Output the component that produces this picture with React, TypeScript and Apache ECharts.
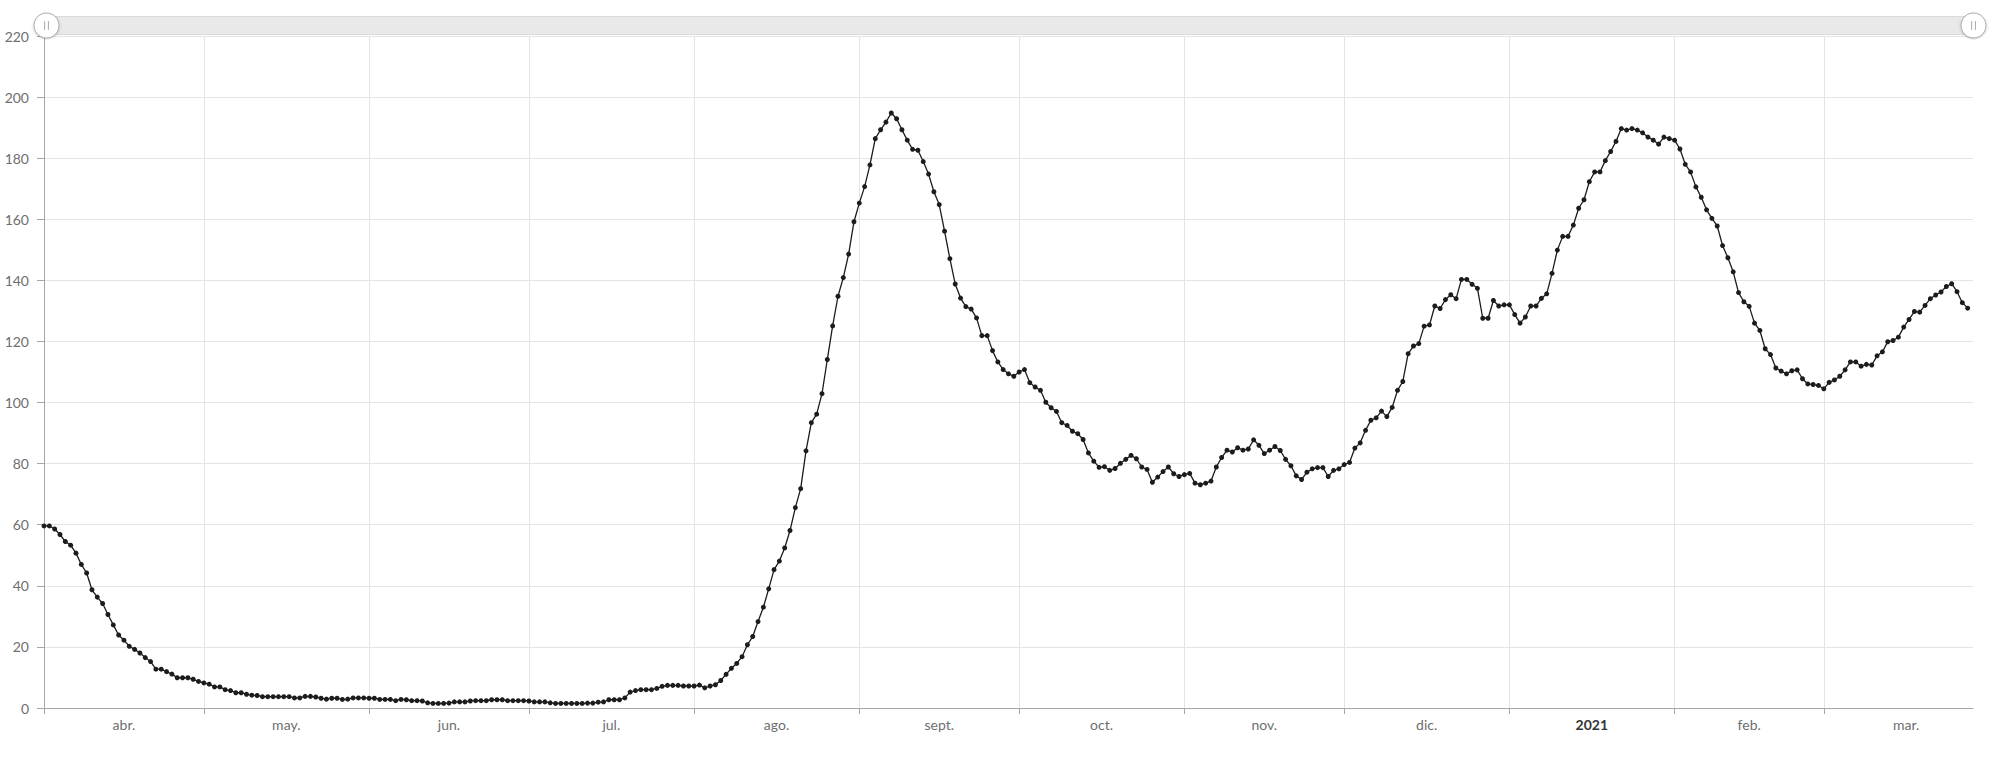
import React, { useEffect, useRef } from "react";
import * as echarts from "echarts";

// First day of the series: 1 April 2020 (month index 3, zero-based); the axis runs to 29 March 2021
const START_YEAR = 2020;
const START_MONTH = 3;
const AXIS_END = "2021-03-29";

const monthLabels = ["abr.", "may.", "jun.", "jul.", "ago.", "sept.", "oct.", "nov.", "dic.", "2021", "feb.", "mar."];

const yMin = 0;
const yMax = 220;
const yInterval = 20;

// Daily values, one array per month
const apr2020 = [59.6, 59.6, 58.6, 56.8, 54.5, 53.3, 50.7, 47.0, 44.2, 38.7, 36.3, 34.2, 30.6, 27.2, 23.9, 22.2, 20.2, 19.2, 18.0, 16.5, 15.2, 12.7, 12.7, 11.9, 11.1, 9.9, 9.9, 9.9, 9.4, 8.7];
const may2020 = [8.2, 7.8, 6.9, 6.9, 6.0, 5.7, 5.0, 5.0, 4.5, 4.2, 4.1, 3.7, 3.7, 3.7, 3.7, 3.7, 3.7, 3.3, 3.3, 3.8, 3.8, 3.6, 3.2, 2.9, 3.2, 3.2, 2.8, 2.9, 3.3, 3.3, 3.3];
const jun2020 = [3.2, 3.2, 2.8, 2.8, 2.8, 2.4, 2.8, 2.7, 2.4, 2.4, 2.3, 1.7, 1.5, 1.5, 1.5, 1.6, 2.0, 2.0, 2.0, 2.3, 2.4, 2.4, 2.4, 2.7, 2.7, 2.7, 2.4, 2.4, 2.4, 2.4];
const jul2020 = [2.3, 2.0, 2.0, 2.0, 1.7, 1.5, 1.5, 1.5, 1.5, 1.5, 1.5, 1.6, 1.6, 1.9, 2.0, 2.7, 2.7, 2.7, 3.3, 5.2, 5.7, 6.0, 6.0, 6.0, 6.4, 7.1, 7.4, 7.4, 7.4, 7.2, 7.2];
const aug2020 = [7.2, 7.5, 6.6, 7.2, 7.6, 9.0, 11.0, 13.0, 14.6, 16.8, 20.7, 23.4, 28.3, 33.0, 39.0, 45.3, 48.1, 52.4, 58.1, 65.6, 71.8, 84.2, 93.4, 96.2, 102.9, 114.1, 125.1, 134.8, 140.9, 148.6, 159.2];
const sep2020 = [165.3, 170.7, 177.8, 186.4, 189.3, 191.8, 194.8, 192.9, 189.3, 185.9, 182.9, 182.6, 178.9, 174.8, 169.0, 164.8, 156.1, 147.1, 138.8, 134.2, 131.4, 130.6, 127.7, 121.9, 121.9, 117.0, 113.3, 110.8, 109.4, 108.6];
const oct2020 = [110.0, 110.8, 106.5, 105.1, 104.0, 100.1, 98.3, 97.1, 93.4, 92.5, 90.6, 89.8, 87.9, 83.5, 80.8, 78.8, 79.0, 77.8, 78.4, 80.1, 81.4, 82.7, 81.6, 78.9, 78.1, 73.9, 75.6, 77.4, 78.9, 76.7, 75.8];
const nov2020 = [76.4, 76.8, 73.6, 73.1, 73.6, 74.3, 78.9, 82.0, 84.4, 83.8, 85.2, 84.4, 84.8, 87.8, 86.0, 83.3, 84.4, 85.6, 84.3, 81.4, 79.3, 76.0, 74.8, 77.2, 78.3, 78.7, 78.7, 75.8, 77.8, 78.3];
const dec2020 = [79.7, 80.4, 85.1, 86.8, 90.9, 94.2, 95.0, 97.2, 95.4, 98.4, 104.0, 106.9, 116.0, 118.5, 119.3, 125.0, 125.4, 131.6, 130.8, 133.7, 135.3, 134.0, 140.3, 140.3, 138.7, 137.4, 127.6, 127.6, 133.4, 131.6, 132.0];
const jan2021 = [132.0, 128.8, 126.0, 128.0, 131.6, 131.6, 134.1, 135.6, 142.3, 149.9, 154.4, 154.4, 158.1, 163.6, 166.4, 172.3, 175.5, 175.5, 179.2, 182.2, 185.5, 189.7, 189.2, 189.7, 189.2, 188.3, 186.9, 185.9, 184.6, 186.9, 186.4];
const feb2021 = [185.9, 183.0, 178.0, 175.5, 170.6, 167.2, 163.1, 160.3, 157.8, 151.4, 147.4, 142.8, 136.0, 133.0, 131.5, 126.0, 123.6, 117.6, 115.7, 111.3, 110.3, 109.4, 110.4, 110.7, 107.8, 106.1, 105.9, 105.6];
const mar2021 = [104.5, 106.6, 107.4, 108.6, 110.7, 113.3, 113.3, 111.9, 112.5, 112.3, 115.3, 116.6, 119.9, 120.3, 121.4, 124.7, 127.2, 129.8, 129.6, 131.8, 134.0, 135.2, 136.2, 138.0, 138.9, 136.3, 132.7, 130.9];

const monthlyValues = [apr2020, may2020, jun2020, jul2020, aug2020, sep2020, oct2020, nov2020, dec2020, jan2021, feb2021, mar2021];

const FONT = "Lato, 'Open Sans', sans-serif";
const pad = (n: number) => (n < 10 ? "0" + n : "" + n);

export default function App() {
  const ref = useRef<HTMLDivElement>(null);

  useEffect(() => {
    if (!ref.current) return;
    const chart = echarts.init(ref.current, null, { renderer: "svg" });

    const values: number[] = [];
    monthlyValues.forEach((arr) => arr.forEach((v) => values.push(v)));

    // Daily categories from the first day to the axis end
    const categories: string[] = [];
    const monthStarts = new Set<number>();
    const start = Date.UTC(START_YEAR, START_MONTH, 1);
    const [ey, em, ed] = AXIS_END.split("-").map(Number);
    const end = Date.UTC(ey, em - 1, ed);
    for (let t = start; t <= end; t += 86400000) {
      const d = new Date(t);
      if (d.getUTCDate() === 1) monthStarts.add(categories.length);
      categories.push(`${d.getUTCFullYear()}-${pad(d.getUTCMonth() + 1)}-${pad(d.getUTCDate())}`);
    }

    // One label per month, centred in the month
    const labelAt = new Map<number, { text: string; half: boolean; bold: boolean }>();
    let s = 0;
    monthLabels.forEach((text, m) => {
      const y = START_YEAR + Math.floor((START_MONTH + m) / 12);
      const mo = (START_MONTH + m) % 12;
      const daysInMonth = new Date(Date.UTC(y, mo + 1, 0)).getUTCDate();
      const twice = 2 * s + daysInMonth;
      labelAt.set(Math.floor(twice / 2), { text, half: twice % 2 === 1, bold: mo === 0 });
      s += daysInMonth;
    });

    const labelColor = "#6e6e6e";
    const base = { color: labelColor, fontSize: 14, fontFamily: FONT };
    const bold = { color: "#333", fontSize: 14, fontFamily: FONT, fontWeight: "bold" as const };

    const handlePath =
      "path://M10,0 A10,10,0,1,1,9.99,0 Z M8.5,6.5 L8.5,13.5 M11.5,6.5 L11.5,13.5";

    chart.setOption({
      animation: false,
      backgroundColor: "#fff",
      grid: { left: 44, right: 27, top: 36, bottom: 53, outerBoundsMode: "none" },
      dataZoom: [
        {
          type: "slider",
          xAxisIndex: 0,
          start: 0,
          end: 100,
          left: 44,
          right: 27,
          top: 16,
          height: 19,
          backgroundColor: "#e9e9e9",
          borderColor: "#dadada",
          borderRadius: 0,
          fillerColor: "rgba(0,0,0,0)",
          showDataShadow: false,
          showDetail: false,
          brushSelect: false,
          moveHandleSize: 0,
          moveHandleStyle: { opacity: 0 },
          dataBackground: { lineStyle: { opacity: 0 }, areaStyle: { opacity: 0 } },
          selectedDataBackground: { lineStyle: { opacity: 0 }, areaStyle: { opacity: 0 } },
          handleIcon: handlePath,
          handleSize: "132%",
          handleStyle: {
            color: "#ffffff",
            borderColor: "#a8a8a8",
            borderWidth: 1,
            shadowBlur: 3,
            shadowColor: "rgba(0,0,0,0.18)",
            shadowOffsetY: 1,
          },
          emphasis: { handleStyle: { borderColor: "#a8a8a8" } },
        },
      ],
      xAxis: {
        type: "category",
        data: categories,
        boundaryGap: false,
        axisLine: { show: true, lineStyle: { color: "#a6a6a6", width: 1 } },
        axisTick: {
          show: true,
          length: 6,
          interval: (i: number) => monthStarts.has(i),
          lineStyle: { color: "#a6a6a6" },
        },
        splitLine: {
          show: true,
          interval: (i: number) => monthStarts.has(i),
          lineStyle: { color: "#e4e4e4", width: 1 },
        },
        axisLabel: {
          interval: (i: number) => labelAt.has(i),
          margin: 9,
          ...base,
          formatter: (_v: string, i: number) => {
            const info = labelAt.get(i);
            if (!info) return "";
            const key = (info.bold ? "b" : "n") + (info.half ? "h" : "");
            return `{${key}|${info.text}}`;
          },
          rich: {
            n: { ...base },
            nh: { ...base, padding: [0, 0, 0, 5] },
            b: { ...bold },
            bh: { ...bold, padding: [0, 0, 0, 5] },
          },
        },
      },
      yAxis: {
        type: "value",
        min: yMin,
        max: yMax,
        interval: yInterval,
        axisLine: { show: true, lineStyle: { color: "#a6a6a6", width: 1 } },
        axisTick: { show: true, length: 7, lineStyle: { color: "#a6a6a6" } },
        splitLine: { show: true, lineStyle: { color: "#e4e4e4", width: 1 } },
        axisLabel: { margin: 15, ...base },
      },
      series: [
        {
          type: "line",
          data: values,
          symbol: "circle",
          symbolSize: 5,
          showSymbol: true,
          showAllSymbol: true,
          lineStyle: { color: "#1c1c1c", width: 1.3 },
          itemStyle: { color: "#1c1c1c" },
          emphasis: { disabled: true },
        },
      ],
    });

    return () => chart.dispose();
  }, []);

  return (
    <div
      ref={ref}
      style={{ position: "absolute", left: 0, top: 0, width: 2000, height: 761, background: "#fff" }}
    />
  );
}
